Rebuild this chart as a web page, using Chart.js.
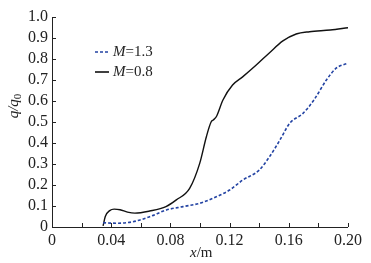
<!DOCTYPE html>
<html>
<head>
<meta charset="utf-8">
<script src="https://cdn.jsdelivr.net/npm/chart.js@4"></script>
<style>
  html, body { margin: 0; padding: 0; background: #fff; }
  #wrap { width: 371px; height: 263px; }
</style>
</head>
<body>
<div id="wrap"><canvas id="heatChart"></canvas></div>
<script>
// M=0.8 (solid black)
const xM08 = [0.0345, 0.036, 0.039, 0.042, 0.046, 0.051, 0.056, 0.066, 0.077, 0.084, 0.093, 0.0998, 0.1043, 0.1075, 0.109, 0.111, 0.1155, 0.122, 0.129, 0.138, 0.147, 0.156, 0.165, 0.174, 0.188, 0.2];
const yM08 = [0.005, 0.05, 0.078, 0.085, 0.082, 0.071, 0.066, 0.076, 0.097, 0.129, 0.184, 0.303, 0.43, 0.50, 0.51, 0.525, 0.605, 0.676, 0.716, 0.771, 0.83, 0.886, 0.919, 0.93, 0.938, 0.949];
// M=1.3 (dashed blue)
const xM13 = [0.0345, 0.0435, 0.0547, 0.066, 0.0773, 0.0885, 0.0998, 0.111, 0.120, 0.129, 0.140, 0.147, 0.154, 0.1606, 0.1696, 0.177, 0.1854, 0.192, 0.2];
const yM13 = [0.02, 0.018, 0.025, 0.049, 0.081, 0.097, 0.113, 0.144, 0.176, 0.224, 0.271, 0.335, 0.414, 0.494, 0.541, 0.605, 0.70, 0.756, 0.78];
const seriesNames = ['1.3', '0.8'];

const blue = '#2343a3';
const serif = '"Liberation Serif", "Times New Roman", serif';

function toPoints(xs, ys) {
    return xs.map((x, i) => ({ x: x, y: ys[i] }));
}

// inward ticks, axis titles and legend
const decorations = {
    id: 'decorations',
    afterDraw(chart) {
        const ctx = chart.ctx;
        const xs = chart.scales.x, ys = chart.scales.y;
        const a = chart.chartArea;
        ctx.save();
        ctx.strokeStyle = '#222';
        ctx.lineWidth = 1;
        ctx.beginPath();
        ctx.moveTo(a.left + 0.5, a.top);
        ctx.lineTo(a.left + 0.5, a.bottom + 0.5);
        ctx.lineTo(a.right, a.bottom + 0.5);
        xs.ticks.forEach(t => {
            const px = Math.round(xs.getPixelForValue(t.value)) + 0.5;
            ctx.moveTo(px, a.bottom);
            ctx.lineTo(px, a.bottom - 4);
        });
        ys.ticks.forEach(t => {
            const py = Math.round(ys.getPixelForValue(t.value)) + 0.5;
            ctx.moveTo(a.left, py);
            ctx.lineTo(a.left + 4, py);
        });
        ctx.stroke();

        ctx.fillStyle = '#222';
        ctx.textBaseline = 'middle';
        // x title
        ctx.textAlign = 'left';
        let x0 = 190, y0 = 253;
        ctx.font = 'italic 15px ' + serif;
        ctx.fillText('x', x0, y0);
        x0 += ctx.measureText('x').width;
        ctx.font = '15px ' + serif;
        ctx.fillText('/m', x0, y0);

        // y title (rotated)
        ctx.save();
        ctx.translate(14, 106);
        ctx.rotate(-Math.PI / 2);
        ctx.textAlign = 'left';
        ctx.font = 'italic 15px ' + serif;
        const w1 = ctx.measureText('q/q').width;
        ctx.font = '11px ' + serif;
        const w2 = ctx.measureText('0').width;
        let sx = -(w1 + w2) / 2;
        ctx.font = 'italic 15px ' + serif;
        ctx.fillText('q/q', sx, 0);
        ctx.font = '11px ' + serif;
        ctx.fillText('0', sx + w1, 4);
        ctx.restore();

        // legend
        const rows = [
            { name: seriesNames[0], color: blue, dash: [3, 2], y: 52 },
            { name: seriesNames[1], color: '#111', dash: [], y: 72 }
        ];
        rows.forEach(r => {
            ctx.strokeStyle = r.color;
            ctx.lineWidth = 1.6;
            ctx.setLineDash(r.dash);
            ctx.beginPath();
            ctx.moveTo(95, r.y);
            ctx.lineTo(109, r.y);
            ctx.stroke();
            ctx.setLineDash([]);
            ctx.fillStyle = '#222';
            let tx = 113;
            ctx.font = 'italic 15px ' + serif;
            ctx.fillText('M', tx, r.y);
            tx += ctx.measureText('M').width;
            ctx.font = '15px ' + serif;
            ctx.fillText('=' + r.name, tx, r.y);
        });
        ctx.restore();
    }
};

new Chart(document.getElementById('heatChart').getContext('2d'), {
    type: 'scatter',
    data: {
        datasets: [{
            label: 'M=1.3',
            data: toPoints(xM13, yM13),
            showLine: true,
            borderColor: blue,
            borderWidth: 1.6,
            borderDash: [3, 2],
            pointRadius: 0,
            tension: 0.4,
            cubicInterpolationMode: 'monotone'
        }, {
            label: 'M=0.8',
            data: toPoints(xM08, yM08),
            showLine: true,
            borderColor: '#111',
            borderWidth: 1.4,
            pointRadius: 0,
            tension: 0.4,
            cubicInterpolationMode: 'monotone'
        }]
    },
    options: {
        responsive: true,
        maintainAspectRatio: false,
        animation: false,
        layout: { padding: { top: 17, right: 23, left: 0, bottom: 0 } },
        plugins: {
            legend: { display: false },
            tooltip: { enabled: false }
        },
        scales: {
            x: {
                type: 'linear',
                min: 0,
                max: 0.2,
                border: { display: false },
                grid: { display: false, drawTicks: false },
                ticks: {
                    stepSize: 0.02,
                    autoSkip: false,
                    maxRotation: 0,
                    padding: 4,
                    color: '#222',
                    font: { family: serif, size: 16 },
                    callback: function(v) {
                        const k = Math.round(v / 0.02);
                        if (k % 2 !== 0) return '';
                        return k === 0 ? '0' : v.toFixed(2);
                    }
                },
                afterFit: function(scale) { scale.height = 36; }
            },
            y: {
                min: 0,
                max: 1.0,
                border: { display: false },
                grid: { display: false, drawTicks: false },
                ticks: {
                    stepSize: 0.1,
                    autoSkip: false,
                    padding: 4,
                    color: '#222',
                    font: { family: serif, size: 16 },
                    callback: function(v) {
                        return Math.abs(v) < 1e-9 ? '0' : v.toFixed(1);
                    }
                },
                afterFit: function(scale) { scale.width = 52; }
            }
        }
    },
    plugins: [decorations]
});
</script>
</body>
</html>
